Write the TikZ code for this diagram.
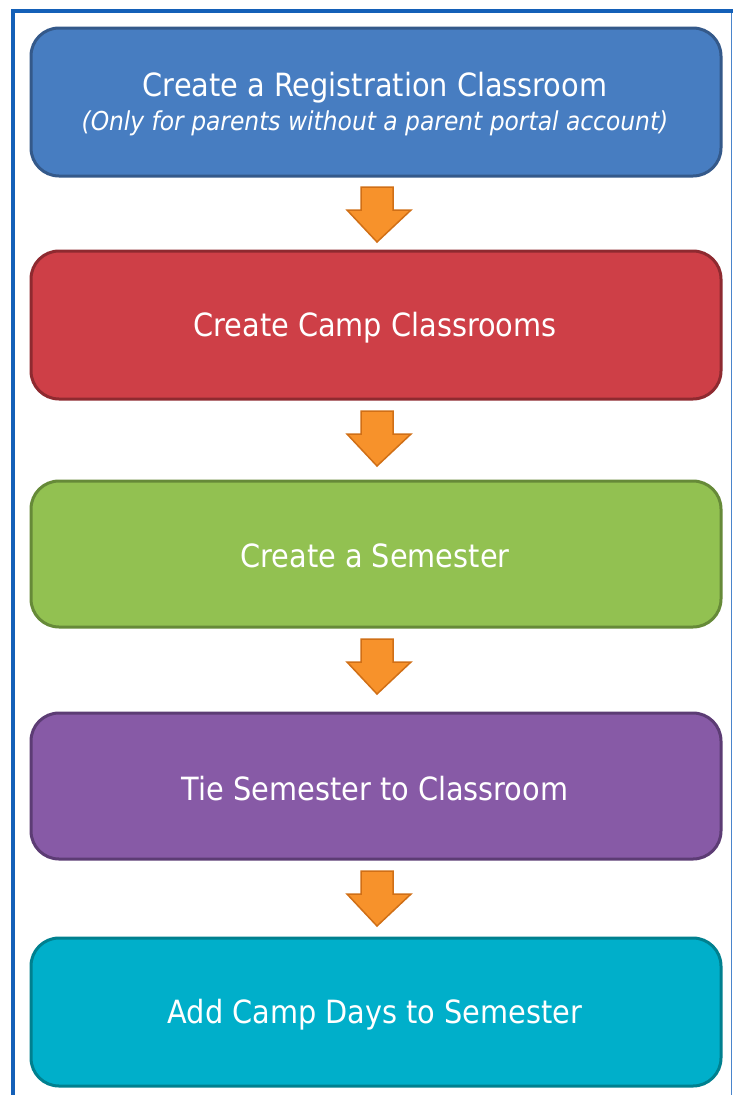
\documentclass[tikz,border=0pt]{standalone}
\usepackage{fontspec}
\setmainfont{DejaVu Sans Condensed}
\definecolor{frameblue}{HTML}{1460B8}
\definecolor{frameedge}{HTML}{4A85CC}
\definecolor{fblue}{HTML}{477DC1}
\definecolor{dblue}{HTML}{34598A}
\definecolor{fred}{HTML}{CE3F47}
\definecolor{dred}{HTML}{8E2A30}
\definecolor{fgreen}{HTML}{92C151}
\definecolor{dgreen}{HTML}{668A38}
\definecolor{fpurple}{HTML}{875AA6}
\definecolor{dpurple}{HTML}{5C3C74}
\definecolor{fcyan}{HTML}{00AFCA}
\definecolor{dcyan}{HTML}{00808F}
\definecolor{aorange}{HTML}{F7922B}
\definecolor{dorange}{HTML}{D06F16}
\begin{document}
\begin{tikzpicture}[x=1pt,y=-1pt,
  stepbox/.style={draw=#1, line width=3pt, rounded corners=28pt},
  steptext/.style={text=white, font=\fontsize{32}{38}\selectfont, align=center},
  subtext/.style={text=white, font=\fontsize{26}{30}\selectfont\itshape},
  downarrow/.style={fill=aorange, draw=dorange, line width=1.5pt, line join=miter}]
\useasboundingbox (0,0) rectangle (734,1095);
% outer frame
\fill[white] (0,0) rectangle (734,1095);
\draw[frameedge, line width=1.2pt] (731.5,11) -- (731.5,1095);
\draw[frameblue, line width=3.5pt] (13,1095) -- (13,11) -- (733,11);
% step boxes
\filldraw[stepbox=dblue, fill=fblue] (31,28) rectangle (721,176);
\filldraw[stepbox=dred, fill=fred] (31,251) rectangle (721,399);
\filldraw[stepbox=dgreen, fill=fgreen] (31,481) rectangle (721,627);
\filldraw[stepbox=dpurple, fill=fpurple] (31,713) rectangle (721,859);
\filldraw[stepbox=dcyan, fill=fcyan] (31,938) rectangle (721,1086);
\node[steptext] (s1) at (375,88) {Create a Registration Classroom};
\node[subtext] (s1b) at (375,123) {(Only for parents without a parent portal account)};
\node[steptext] (s2) at (375,328) {Create Camp Classrooms};
\node[steptext] (s3) at (375,556) {Create a Semester};
\node[steptext] (s4) at (375,789) {Tie Semester to Classroom};
\node[steptext] (s5) at (375,1015) {Add Camp Days to Semester};
% arrows between the steps
\foreach \t in {187,411,639,871}{
  \filldraw[downarrow] (361,\t) -- (393,\t) -- (393,\t+23) -- (411,\t+23)
    -- (377,\t+55) -- (347,\t+23) -- (361,\t+23) -- cycle;
}
\end{tikzpicture}
\end{document}
